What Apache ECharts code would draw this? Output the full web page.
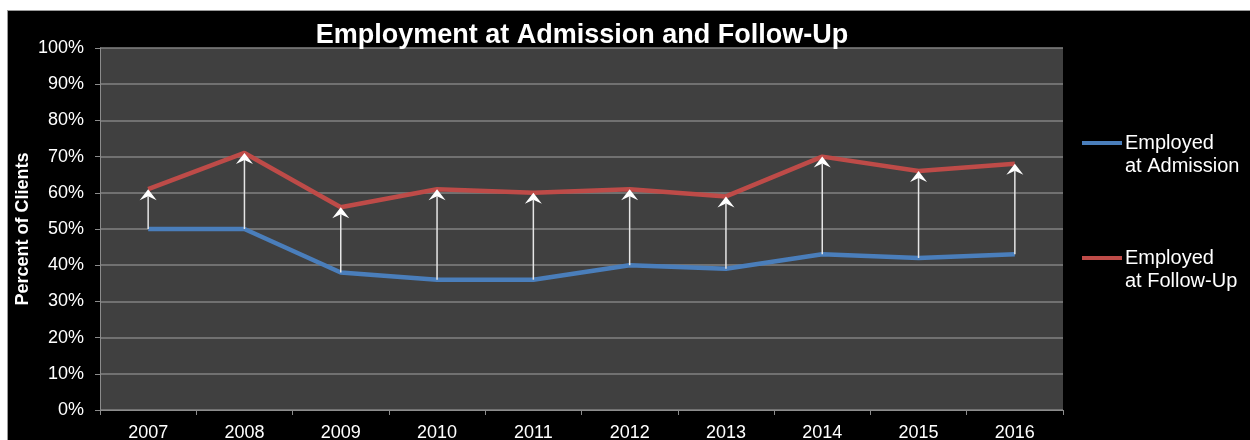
<!DOCTYPE html>
<html>
<head>
<meta charset="utf-8">
<script src="https://cdn.jsdelivr.net/npm/echarts@6/dist/echarts.min.js"></script>
<style>
  html, body { margin: 0; padding: 0; background: #ffffff; }
  #page { position: absolute; left: 0; top: 0; width: 1250px; height: 440px; background: #ffffff; overflow: hidden; }
  #frameTop { position: absolute; left: 7px; top: 10px; width: 1243px; height: 1px; background: #9a9a9a; }
  #frameLeft { position: absolute; left: 7px; top: 10px; width: 1px; height: 430px; background: #9a9a9a; }
  #chart { position: absolute; left: 7px; top: 10px; width: 1243px; height: 430px; background: #000000; }
</style>
</head>
<body>
<div id="page">
  <div id="chart"></div>
  <div id="frameTop"></div>
  <div id="frameLeft"></div>
</div>
<script>
// Share of clients employed, by year
const years = ['2007', '2008', '2009', '2010', '2011', '2012', '2013', '2014', '2015', '2016'];
const employedAtAdmission = [50, 50, 38, 36, 36, 40, 39, 43, 42, 43];
const employedAtFollowUp = [61, 71, 56, 61, 60, 61, 59, 70, 66, 68];

const seriesNames = ['Employed\nat Admission', 'Employed\nat Follow-Up'];
const seriesColors = ['#4a7ebb', '#be4b48'];
const FONT = '"Liberation Sans", Arial, sans-serif';

// One arrow per year, from the admission value up to the follow-up value
const arrowData = years.map((y, i) => [i, employedAtAdmission[i], employedAtFollowUp[i]]);

function renderArrow(params, api) {
  const from = api.coord([api.value(0), api.value(1)]);
  const to = api.coord([api.value(0), api.value(2)]);
  const x = to[0];
  const tipY = to[1];
  const halfW = 8.5, backH = 11, notch = 7;
  return {
    type: 'group',
    children: [
      {
        type: 'line',
        shape: { x1: x, y1: from[1], x2: x, y2: tipY + notch },
        style: { stroke: '#e6e6e6', lineWidth: 1.5 }
      },
      {
        type: 'polygon',
        shape: {
          points: [[x, tipY], [x + halfW, tipY + backH], [x, tipY + notch], [x - halfW, tipY + backH]]
        },
        style: { fill: '#ffffff' }
      }
    ]
  };
}

function legendEntry(name, color, y) {
  return [
    {
      type: 'rect',
      shape: { x: 1075, y: y - 2, width: 40, height: 4 },
      style: { fill: color }
    },
    {
      type: 'text',
      x: 1118,
      y: y - 11.5,
      style: {
        text: name,
        fill: '#ffffff',
        font: '20px ' + FONT,
        lineHeight: 23,
        verticalAlign: 'top',
        align: 'left'
      }
    }
  ];
}

const chart = echarts.init(document.getElementById('chart'), null, { renderer: 'canvas' });

chart.setOption({
  backgroundColor: '#000000',
  animation: false,
  title: {
    text: 'Employment at Admission and Follow-Up',
    left: 570,
    top: 7,
    textAlign: 'center',
    textStyle: { color: '#ffffff', fontSize: 27, fontWeight: 'bold', fontFamily: FONT }
  },
  grid: {
    left: 93,
    top: 38,
    width: 963,
    height: 362,
    outerBoundsMode: 'none',
    containLabel: false,
    show: true,
    backgroundColor: '#404040',
    borderWidth: 0
  },
  xAxis: {
    type: 'category',
    data: years,
    boundaryGap: true,
    axisLine: { show: true, lineStyle: { color: '#8c8c8c', width: 1 } },
    axisTick: { show: true, length: 5, inside: false, lineStyle: { color: '#8c8c8c' } },
    axisLabel: { color: '#ffffff', fontSize: 18, fontFamily: FONT, margin: 14 },
    splitLine: { show: false }
  },
  yAxis: {
    type: 'value',
    min: 0,
    max: 100,
    interval: 10,
    name: 'Percent of Clients',
    nameLocation: 'middle',
    nameGap: 68,
    nameMoveOverlap: false,
    nameTextStyle: { color: '#ffffff', fontSize: 18, fontWeight: 'bold', fontFamily: FONT },
    axisLine: { show: true, lineStyle: { color: '#8c8c8c', width: 1 } },
    axisTick: { show: true, length: 5, lineStyle: { color: '#8c8c8c' } },
    axisLabel: { color: '#ffffff', fontSize: 18, fontFamily: FONT, margin: 16, formatter: '{value}%' },
    splitLine: { show: true, lineStyle: { color: '#828282', width: 1.5 } }
  },
  graphic: [].concat(
    legendEntry(seriesNames[0], seriesColors[0], 133),
    legendEntry(seriesNames[1], seriesColors[1], 248)
  ),
  series: [
    {
      name: seriesNames[0],
      type: 'line',
      data: employedAtAdmission,
      symbol: 'none',
      lineStyle: { color: seriesColors[0], width: 4.5 },
      z: 3
    },
    {
      name: seriesNames[1],
      type: 'line',
      data: employedAtFollowUp,
      symbol: 'none',
      lineStyle: { color: seriesColors[1], width: 4.5 },
      z: 3
    },
    {
      name: 'Change',
      type: 'custom',
      data: arrowData,
      renderItem: renderArrow,
      encode: { x: 0, y: [1, 2] },
      z: 5,
      silent: true
    }
  ]
});
</script>
</body>
</html>
